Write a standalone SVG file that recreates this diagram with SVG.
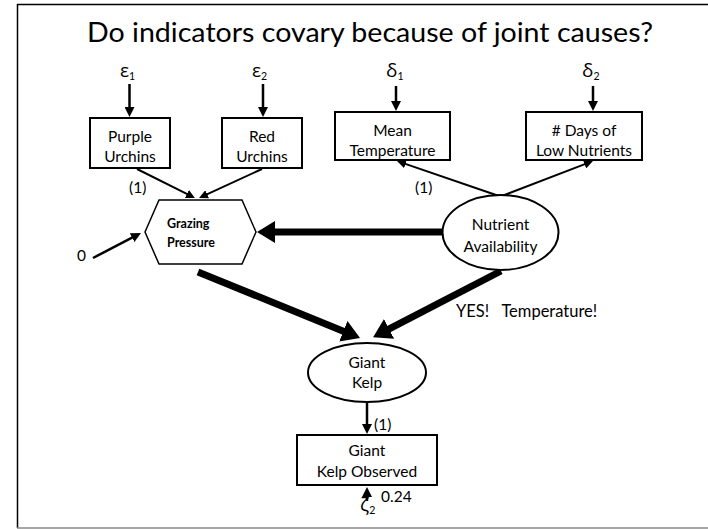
<svg xmlns="http://www.w3.org/2000/svg" width="708" height="529" viewBox="0 0 708 529">
  <style>
    .lbl { font-family: Lato, "Open Sans", "Liberation Sans", sans-serif; font-size: 15.5px; fill: #000; }
    .mid { text-anchor: middle; }
    .bold { font-weight: bold; font-size: 12.5px; }
    .title { font-family: Lato, "Open Sans", "Liberation Sans", sans-serif; font-size: 27px; fill: #000; }
    .greek { font-family: "Open Sans", "DejaVu Sans", sans-serif; font-size: 19px; }
    .sub { font-family: Lato, "Open Sans", sans-serif; font-size: 10.5px; }
    .box { fill: #fff; stroke: #000; stroke-width: 2; }
    .thin { stroke: #000; stroke-width: 2.5; fill: none; }
    .hair { stroke: #000; stroke-width: 2; fill: none; }
    .thick { stroke: #000; stroke-width: 7; fill: none; }
  </style>
  <defs>
    <marker id="ah" markerUnits="userSpaceOnUse" markerWidth="11" markerHeight="10" refX="1" refY="5" orient="auto">
      <path d="M0,0 L10,5 L0,10 z" fill="#000"/>
    </marker>
    <marker id="ahs" markerUnits="userSpaceOnUse" markerWidth="10" markerHeight="9" refX="1" refY="4.5" orient="auto">
      <path d="M0,0 L9,4.5 L0,9 z" fill="#000"/>
    </marker>
    <marker id="ahb" markerUnits="userSpaceOnUse" markerWidth="19" markerHeight="22" refX="2" refY="11" orient="auto">
      <path d="M0,0 L18,11 L0,22 z" fill="#000"/>
    </marker>
  </defs>

  <rect width="708" height="529" fill="#fff"/>
  <!-- slide frame -->
  <line x1="17.5" y1="4" x2="17.5" y2="528" stroke="#000" stroke-width="1.5"/>
  <line x1="17" y1="4.5" x2="708" y2="4.5" stroke="#000" stroke-width="1.5"/>
  <line x1="17" y1="528" x2="708" y2="528" stroke="#888" stroke-width="1.5"/>

  <text class="title mid" x="370" y="42" textLength="566" lengthAdjust="spacingAndGlyphs">Do indicators covary because of joint causes?</text>

  <!-- connectors -->
  <g id="connectors">
    <line class="thin" x1="129.5" y1="84" x2="129.5" y2="108" marker-end="url(#ah)"/>
    <line class="thin" x1="263" y1="84" x2="263" y2="108" marker-end="url(#ah)"/>
    <line class="thin" x1="396" y1="86" x2="396" y2="102" marker-end="url(#ah)"/>
    <line class="thin" x1="593" y1="86" x2="593" y2="102" marker-end="url(#ah)"/>
    <line class="hair" x1="137" y1="169" x2="187.8" y2="194.4" marker-end="url(#ahs)"/>
    <line class="hair" x1="262" y1="169" x2="206.3" y2="194.7" marker-end="url(#ahs)"/>
    <line class="hair" x1="499" y1="196" x2="404.6" y2="163.6" marker-end="url(#ahs)"/>
    <line class="hair" x1="502" y1="196" x2="585.5" y2="163.9" marker-end="url(#ahs)"/>
    <line class="thin" x1="93" y1="258" x2="133" y2="237.2" marker-end="url(#ah)"/>
    <line class="thick" x1="443" y1="232" x2="273" y2="232" marker-end="url(#ahb)"/>
    <line class="thick" x1="198" y1="272" x2="345.2" y2="332" marker-end="url(#ahb)"/>
    <line class="thick" x1="501" y1="271" x2="387.3" y2="329.8" marker-end="url(#ahb)"/>
    <line class="thin" x1="367" y1="402" x2="367" y2="425" marker-end="url(#ah)"/>
    <line class="thin" x1="367" y1="501" x2="367" y2="496" marker-end="url(#ah)"/>
  </g>

  <!-- error terms and path labels -->
  <g id="labels">
    <text class="lbl greek" x="120" y="77">ε<tspan class="sub" dy="3">1</tspan></text>
    <text class="lbl greek" x="252" y="77">ε<tspan class="sub" dy="3">2</tspan></text>
    <text class="lbl greek" x="386" y="77">δ<tspan class="sub" dy="3">1</tspan></text>
    <text class="lbl greek" x="582" y="77">δ<tspan class="sub" dy="3">2</tspan></text>
    <text class="lbl" x="129" y="193">(1)</text>
    <text class="lbl" x="415" y="193">(1)</text>
    <text class="lbl" x="77" y="261">0</text>
    <text class="lbl" x="456" y="317" style="font-size:16.5px" xml:space="preserve">YES!   Temperature!</text>
    <text class="lbl" x="374" y="430">(1)</text>
    <text class="lbl" x="381" y="502">0.24</text>
    <text class="lbl greek" x="360" y="511">ζ<tspan class="sub" dy="3">2</tspan></text>
  </g>

  <g id="purple-urchins">
    <rect class="box" x="90" y="118" width="80" height="50"/>
    <text class="lbl mid" x="130" y="141.5">Purple</text>
    <text class="lbl mid" x="130" y="161.5">Urchins</text>
  </g>
  <g id="red-urchins">
    <rect class="box" x="222" y="118" width="80" height="50"/>
    <text class="lbl mid" x="262" y="141.5">Red</text>
    <text class="lbl mid" x="262" y="161.5">Urchins</text>
  </g>
  <g id="mean-temperature">
    <rect class="box" x="335" y="112" width="115" height="48"/>
    <text class="lbl mid" x="392.5" y="136">Mean</text>
    <text class="lbl mid" x="392.5" y="156">Temperature</text>
  </g>
  <g id="days-low-nutrients">
    <rect class="box" x="526" y="112" width="116" height="48"/>
    <text class="lbl mid" x="584" y="136"># Days of</text>
    <text class="lbl mid" x="584" y="156">Low Nutrients</text>
  </g>
  <g id="grazing-pressure">
    <polygon class="box" style="stroke-width:1.5" points="145,232 159,200 242,200 256,232 242,264 159,264"/>
    <text class="lbl bold" x="167" y="228">Grazing</text>
    <text class="lbl bold" x="167" y="247">Pressure</text>
  </g>
  <g id="nutrient-availability">
    <ellipse class="box" cx="500.5" cy="232.5" rx="58" ry="37.5"/>
    <text class="lbl mid" x="500.5" y="230">Nutrient</text>
    <text class="lbl mid" x="500.5" y="252">Availability</text>
  </g>
  <g id="giant-kelp">
    <ellipse class="box" cx="367" cy="372.5" rx="59" ry="29.5"/>
    <text class="lbl mid" x="367" y="368">Giant</text>
    <text class="lbl mid" x="367" y="388">Kelp</text>
  </g>
  <g id="giant-kelp-observed">
    <rect class="box" x="297" y="435" width="140" height="50"/>
    <text class="lbl mid" x="367" y="456">Giant</text>
    <text class="lbl mid" x="367" y="477">Kelp Observed</text>
  </g>
</svg>
